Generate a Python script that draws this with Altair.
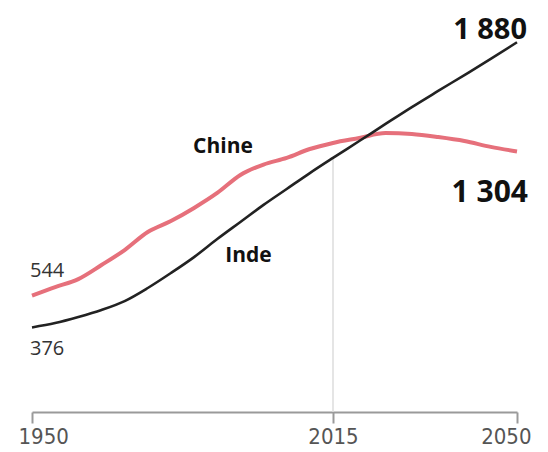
import altair as alt
import pandas as pd

# Population (millions)
years = [1950, 1955, 1960, 1965, 1970, 1975, 1980, 1985, 1990, 1995, 2000,
         2005, 2010, 2015, 2020, 2025, 2030, 2035, 2040, 2045, 2050]
chine = [544, 589, 631, 705, 784, 879, 937, 1006, 1085, 1180, 1235,
         1270, 1317, 1349, 1375, 1401, 1396, 1380, 1359, 1328, 1304]
inde = [376, 399, 431, 468, 515, 584, 663, 747, 842, 932, 1022,
        1106, 1190, 1270, 1359, 1449, 1538, 1623, 1707, 1792, 1880]
tick_years = [1950, 2015, 2050]
marker_year = 2015
y_min, y_max = -70, 2050

df = pd.DataFrame({"year": years, "Chine": chine, "Inde": inde})

W, H = 485, 402
xscale = alt.Scale(domain=[1950, 2015, 2050], range=[0, 301, W], nice=False, zero=False)
yscale = alt.Scale(domain=[y_min, y_max], nice=False, zero=False)

x_axis = alt.Axis(values=tick_years, format="d", title=None, grid=False,
                  domainColor="#9a9a9a", domainWidth=2, tickColor="#9a9a9a",
                  tickWidth=2, tickSize=11,
                  labelFont="DejaVu Sans Condensed, DejaVu Sans",
                  labelFontSize=22, labelColor="#555555", labelPadding=3,
                  labelFlush=True, labelFlushOffset=14)

base = alt.Chart(df)
X = alt.X("year:Q", scale=xscale, axis=x_axis)

rule_df = pd.DataFrame({"year": [marker_year],
                        "top": [inde[years.index(marker_year)]],
                        "bottom": [y_min]})
rule = alt.Chart(rule_df).mark_rule(color="#dddddd", strokeWidth=1.5).encode(
    x=alt.X("year:Q", scale=xscale, axis=x_axis),
    y=alt.Y("top:Q", scale=yscale, axis=None),
    y2="bottom:Q",
)

line_chine = base.mark_line(color="#e6707b", strokeWidth=4, interpolate="monotone").encode(
    x=X, y=alt.Y("Chine:Q", scale=yscale, axis=None))
line_inde = base.mark_line(color="#222222", strokeWidth=2.6, interpolate="monotone").encode(
    x=X, y=alt.Y("Inde:Q", scale=yscale, axis=None))

first = df[df.year == years[0]]
last = df[df.year == years[-1]]
c85 = df[df.year == 1985]
i90 = df[df.year == 1990]

def txt(data, col, text, dx, dy, size, weight, align, color="#111111"):
    return alt.Chart(data).mark_text(
        text=text, dx=dx, dy=dy, align=align, baseline="alphabetic",
        font="Open Sans", fontSize=size, fontWeight=weight, color=color
    ).encode(x=alt.X("year:Q", scale=xscale), y=alt.Y(f"{col}:Q", scale=yscale))

labels = [
    txt(last, "Inde", "1 880", 10, -3, 29, "bold", "right"),
    txt(last, "Chine", "1 304", 11, 51, 30, "bold", "right"),
    txt(first, "Chine", "544", -2, -19, 20, "normal", "left", "#333333"),
    txt(first, "Inde", "376", -2, 28, 20, "normal", "left", "#333333"),
    txt(c85, "Chine", "Chine", -1, -55, 21, "bold", "left"),
    txt(i90, "Inde", "Inde", 8, 23, 21, "bold", "left"),
]

chart = alt.layer(rule, line_chine, line_inde, *labels).properties(
    width=W, height=H,
    autosize=alt.AutoSizeParams(type="none"),
    padding={"left": 24, "top": 2, "right": 23, "bottom": 40},
).configure_view(stroke=None)

chart.save("out.html", embed_options={"renderer": "svg", "actions": False})
